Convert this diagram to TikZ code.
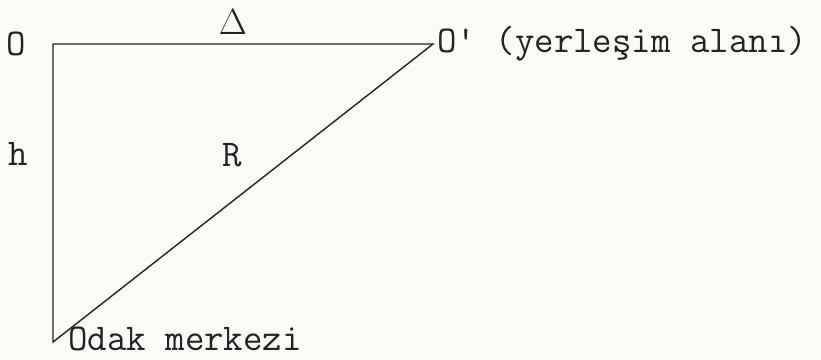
\documentclass[tikz,border=0pt]{standalone}
\usepackage{fontspec}
\usetikzlibrary{positioning}
\definecolor{paperBg}{RGB}{250,253,247}
\definecolor{inkGrey}{RGB}{35,35,35}
\tikzset{
  sidestyle/.style={draw=inkGrey, line width=0.8pt, line join=miter},
  lbl/.style={inner sep=0pt, text=inkGrey,
    font=\ttfamily\fontsize{21.5}{25}\selectfont}
}

\begin{document}
\begin{tikzpicture}[x=0.02cm, y=-0.02cm]

    % ---- page frame --------------------------------------------
    \fill[paperBg] (0,0) rectangle (821,359);
    \useasboundingbox (0,0) rectangle (821,359);

    % ---- triangle corners --------------------------------------
    \coordinate (origin) at (53,44);
    \coordinate (site)   at (433,44);
    \coordinate (focus)  at (53,342);
    \coordinate (topmid) at (233,44);
    \coordinate (leftmid) at (53,154);

    \draw[sidestyle] (origin) -- (site) -- (focus) -- cycle;

    % ---- labels ------------------------------------------------
    \node[lbl, left=0.54cm of origin]   (lblO)     {O};
    \node[lbl, right=0.08cm of site]    (lblSite)  {O' (yerleşim alanı)};
    \node[lbl, above=0.18cm of topmid]  (lblDelta) {$\Delta$};
    \node[lbl, left=0.5cm of leftmid]   (lblH)     {h};
    \node[lbl] at (232,155)             (lblR)     {R};
    \node[lbl, right=0.3cm of focus, yshift=1.5pt] (lblFocus) {Odak merkezi};

\end{tikzpicture}
\end{document}
